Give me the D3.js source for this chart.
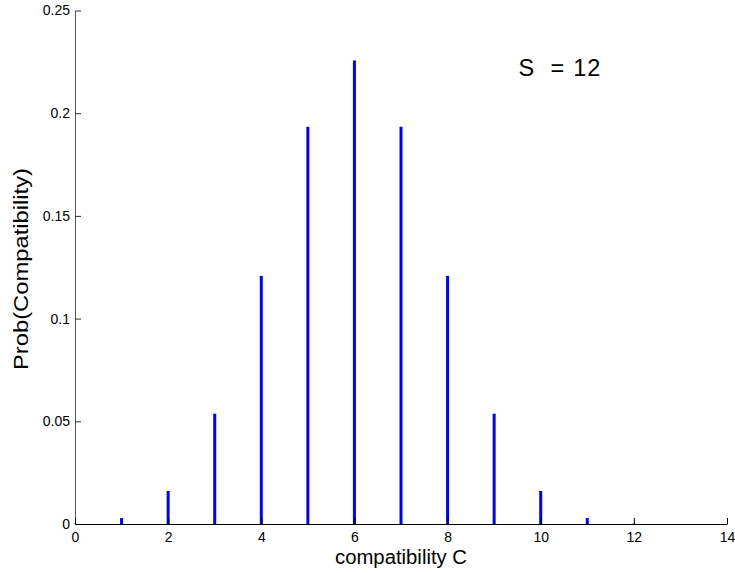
<!DOCTYPE html>
<html>
<head>
<meta charset="utf-8">
<script src="https://cdn.jsdelivr.net/npm/d3@7/dist/d3.min.js"></script>
<style>
  html, body { margin: 0; padding: 0; background: #fff; }
  svg { display: block; font-family: "Liberation Sans", Arial, sans-serif; }
</style>
</head>
<body>
<svg id="chart" width="735" height="573"></svg>
<script>
// Data
const compatibility = [0, 1, 2, 3, 4, 5, 6, 7, 8, 9, 10, 11, 12];
const probability   = [0.0002, 0.0029, 0.0161, 0.0537, 0.1208, 0.1934, 0.2256, 0.1934, 0.1208, 0.0537, 0.0161, 0.0029, 0.0002];
const xTicks = [0, 2, 4, 6, 8, 10, 12, 14];
const yTicks = [0, 0.05, 0.1, 0.15, 0.2, 0.25];
const yTickLabels = ["0", "0.05", "0.1", "0.15", "0.2", "0.25"];
const annotation = "S  = 12";
const xLabel = "compatibility C";
const yLabel = "Prob(Compatibility)";

const svg = d3.select("#chart");
const mLeft = 75, mRight = 727, mTop = 10.5, mBottom = 524;

const x = d3.scaleLinear().domain([0, 14]).range([mLeft, mRight]);
const y = d3.scaleLinear().domain([0, 0.25]).range([mBottom, mTop]);

// Stems
svg.append("g").selectAll("line").data(compatibility).join("line")
  .attr("x1", d => x(d)).attr("x2", d => x(d))
  .attr("y1", y(0)).attr("y2", (d, i) => y(probability[i]))
  .attr("stroke", "#0000ff").attr("stroke-width", 3);

// X axis
const xAxis = d3.axisBottom(x).tickValues(xTicks).tickFormat(d3.format("d"))
  .tickSizeInner(-6).tickSizeOuter(0).tickPadding(8);
const gx = svg.append("g").attr("transform", `translate(0,${mBottom})`).call(xAxis);
gx.select(".domain").attr("stroke", "#000");
gx.selectAll(".tick line").attr("stroke", "#000");
gx.selectAll("text").attr("font-size", 14).attr("fill", "#000")
  .attr("font-family", "Liberation Sans, Arial, sans-serif");

// Y axis
const yAxis = d3.axisLeft(y).tickValues(yTicks).tickFormat((d, i) => yTickLabels[i])
  .tickSizeInner(-6).tickSizeOuter(0).tickPadding(5);
const gy = svg.append("g").attr("transform", `translate(${mLeft},0)`).call(yAxis);
gy.select(".domain").attr("stroke", "#555");
gy.selectAll(".tick line").attr("stroke", "#333");
gy.selectAll("text").attr("font-size", 14).attr("fill", "#000")
  .attr("font-family", "Liberation Sans, Arial, sans-serif");
gx.raise();

// Axis labels
svg.append("text")
  .attr("x", (mLeft + mRight) / 2).attr("y", 563.5)
  .attr("text-anchor", "middle").attr("font-size", 19.5)
  .attr("textLength", 132).attr("lengthAdjust", "spacingAndGlyphs")
  .text(xLabel);

svg.append("text")
  .attr("transform", `translate(27.5,269) rotate(-90)`)
  .attr("text-anchor", "middle").attr("font-size", 19.5)
  .attr("textLength", 202).attr("lengthAdjust", "spacingAndGlyphs")
  .text(yLabel);

// Annotation
svg.append("text")
  .attr("x", x(9.5) + 1).attr("y", 76)
  .attr("font-size", 23.5)
  .style("white-space", "pre")
  .attr("xml:space", "preserve")
  .attr("textLength", 82).attr("lengthAdjust", "spacing")
  .text(annotation);
</script>
</body>
</html>
